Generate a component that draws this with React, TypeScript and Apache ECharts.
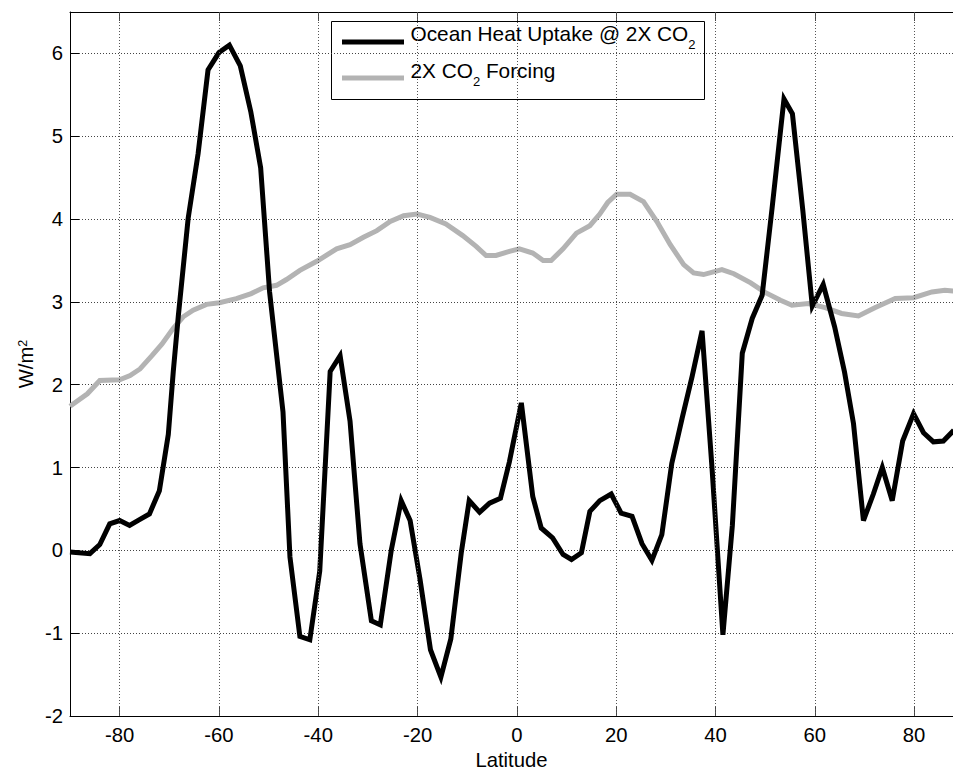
import React, { useEffect, useRef } from 'react';
import * as echarts from 'echarts';

// Ocean heat uptake @ 2X CO2 (W/m^2) vs latitude
const blackLat = [-90, -86, -84, -82, -80, -78, -76, -74, -72, -70.2, -69.2, -68.2, -66.2, -64.2, -62.2, -60, -57.9, -55.7, -53.6, -51.6, -49.8, -47.1, -45.7, -43.7, -41.7, -39.7, -37.6, -35.6, -33.6, -31.6, -29.3, -27.5, -25.3, -23.3, -21.5, -19.5, -17.4, -15.3, -13.3, -11.2, -9.6, -7.5, -5.5, -3.3, -1.5, 0.9, 3.2, 4.9, 7.2, 9.3, 11, 13, 14.7, 16.7, 19, 21, 23.2, 25.2, 27.2, 29.2, 31.2, 33.3, 35.3, 37.3, 39.3, 41.5, 43.4, 45.4, 47.4, 49.4, 51.4, 53.8, 55.5, 57.6, 59.5, 61.7, 64, 66, 67.8, 69.8, 71.8, 73.6, 75.6, 77.7, 79.9, 81.9, 83.9, 85.9, 88];
const blackVal = [-0.02, -0.04, 0.07, 0.32, 0.36, 0.3, 0.37, 0.44, 0.72, 1.4, 2.16, 2.82, 4.01, 4.79, 5.8, 6.01, 6.1, 5.85, 5.3, 4.62, 3.12, 1.67, -0.08, -1.04, -1.08, -0.25, 2.16, 2.35, 1.56, 0.08, -0.85, -0.9, 0.0, 0.6, 0.36, -0.35, -1.2, -1.53, -1.07, -0.03, 0.6, 0.46, 0.57, 0.63, 1.07, 1.78, 0.65, 0.27, 0.15, -0.05, -0.11, -0.03, 0.47, 0.6, 0.68, 0.45, 0.41, 0.08, -0.12, 0.19, 1.05, 1.6, 2.1, 2.65, 1.0, -1.02, 0.3, 2.38, 2.8, 3.08, 4.13, 5.45, 5.27, 4.1, 2.95, 3.21, 2.7, 2.15, 1.53, 0.36, 0.68, 1.0, 0.6, 1.32, 1.65, 1.42, 1.31, 1.32, 1.45];

// 2X CO2 forcing (W/m^2) vs latitude
const grayLat = [-90, -86.5, -84, -80, -77.9, -75.9, -73.5, -71.5, -69.2, -67.2, -65.2, -62.5, -59.9, -56.5, -53.5, -51.1, -48.4, -46.4, -43.7, -40.3, -36.3, -33.6, -30.9, -28.2, -25.5, -22.8, -20.1, -17.5, -14.3, -10.9, -8.2, -6.2, -4.2, -1.5, 0.5, 3.2, 5.3, 6.9, 9.3, 12, 14.7, 16.7, 18.3, 20.1, 22.8, 25.5, 28.2, 30.9, 33.6, 35.6, 37.6, 41.3, 43.7, 47.1, 49.8, 53.1, 55.4, 58.7, 62.1, 65.4, 68.8, 72.1, 76.2, 79.9, 83.6, 86.2, 88];
const grayVal = [1.74, 1.89, 2.05, 2.06, 2.11, 2.19, 2.35, 2.49, 2.68, 2.82, 2.9, 2.97, 2.99, 3.04, 3.1, 3.17, 3.2, 3.27, 3.38, 3.49, 3.64, 3.69, 3.78, 3.86, 3.97, 4.04, 4.06, 4.02, 3.94, 3.8, 3.67, 3.56, 3.56, 3.61, 3.64, 3.59, 3.5, 3.5, 3.64, 3.83, 3.92, 4.06, 4.2, 4.3, 4.3, 4.21, 3.97, 3.69, 3.45, 3.35, 3.33, 3.39, 3.34, 3.23, 3.12, 3.02, 2.96, 2.98, 2.93, 2.86, 2.83, 2.93, 3.04, 3.05, 3.12, 3.14, 3.13];

const xTicks = [-80, -60, -40, -20, 0, 20, 40, 60, 80];
const seriesNames = ['Ocean Heat Uptake @ 2X CO2', '2X CO2 Forcing'];
const seriesColors = ['#000000', '#b3b3b3'];
const xAxisTitle = 'Latitude';
const yAxisTitle = 'W/m2';

const X_MIN = -90;
const X_MAX = 87.84;
const Y_MIN = -2;
const Y_MAX = 6.5;

const FONT = '"Liberation Sans", Arial, Helvetica, sans-serif';

function richName(n: string): string {
  const parts = n.split('CO2');
  return parts
    .map((s, i) => (s ? `{t|${s}}` : '') + (i < parts.length - 1 ? '{t|CO}{sub|2}' : ''))
    .join('');
}

export default function App() {
  const ref = useRef<HTMLDivElement>(null);

  useEffect(() => {
    if (!ref.current) return;
    const chart = echarts.init(ref.current, undefined, { renderer: 'svg' });

    const legendRich = {
      t: { fontSize: 20.8, fontFamily: FONT, fill: '#000', verticalAlign: 'top' },
      sub: { fontSize: 13, fontFamily: FONT, fill: '#000', verticalAlign: 'top', padding: [15, 0, 0, 0] },
    };

    const option: any = {
      animation: false,
      backgroundColor: '#ffffff',
      grid: { left: 70, right: 0, top: 12, bottom: 56, containLabel: false, outerBoundsMode: 'none' },
      xAxis: [
        {
          type: 'value',
          position: 'bottom',
          min: X_MIN,
          max: X_MAX,
          axisLine: { show: true, onZero: false, lineStyle: { color: '#000', width: 1 } },
          axisTick: { show: true, inside: true, length: 9, customValues: xTicks, lineStyle: { color: '#444', width: 1 } },
          axisLabel: {
            show: true,
            customValues: xTicks,
            margin: 9,
            fontSize: 20.3,
            fontFamily: FONT,
            color: '#000',
          },
          splitLine: { show: false },
          name: xAxisTitle,
          nameLocation: 'middle',
          nameGap: 33,
          nameTextStyle: { fontSize: 20.3, fontFamily: FONT, color: '#000' },
        },
        {
          type: 'value',
          position: 'top',
          min: X_MIN,
          max: X_MAX,
          axisLine: { show: true, onZero: false, lineStyle: { color: '#000', width: 1 } },
          axisTick: { show: true, inside: true, length: 9, customValues: xTicks, lineStyle: { color: '#444', width: 1 } },
          axisLabel: { show: false },
          splitLine: { show: false },
        },
      ],
      yAxis: {
        type: 'value',
        min: Y_MIN,
        max: Y_MAX,
        interval: 1,
        axisLine: { show: true, onZero: false, lineStyle: { color: '#000', width: 1 } },
        axisTick: { show: true, inside: true, length: 9, lineStyle: { color: '#000', width: 1 } },
        axisLabel: {
          margin: 7,
          fontSize: 20.3,
          fontFamily: FONT,
          color: '#000',
          formatter: (v: number) => (Number.isInteger(v) ? String(v) : ''),
        },
        splitLine: { show: true, lineStyle: { color: '#444', width: 1, type: [1, 2] } },
      },
      series: [
        {
          type: 'line',
          name: 'grid',
          data: [],
          z: 1,
          silent: true,
          markLine: {
            silent: true,
            symbol: ['none', 'none'],
            label: { show: false },
            lineStyle: { color: '#555', width: 1, type: [1, 2] },
            emphasis: { disabled: true },
            data: xTicks.map((v) => ({ xAxis: v })),
          },
        },
        {
          type: 'line',
          name: seriesNames[1],
          data: grayLat.map((x, i) => [x, grayVal[i]]),
          showSymbol: false,
          symbol: 'none',
          z: 3,
          lineStyle: { color: seriesColors[1], width: 5, join: 'miter' },
          itemStyle: { color: seriesColors[1] },
        },
        {
          type: 'line',
          name: seriesNames[0],
          data: blackLat.map((x, i) => [x, blackVal[i]]),
          showSymbol: false,
          symbol: 'none',
          z: 4,
          lineStyle: { color: seriesColors[0], width: 5, join: 'miter' },
          itemStyle: { color: seriesColors[0] },
        },
      ],
      graphic: [
        {
          type: 'group',
          z: 100,
          children: [
            {
              type: 'rect',
              shape: { x: 331.5, y: 21.5, width: 373, height: 78 },
              style: { fill: '#ffffff', stroke: '#000000', lineWidth: 1 },
            },
            {
              type: 'line',
              shape: { x1: 342, y1: 42, x2: 404, y2: 42 },
              style: { stroke: seriesColors[0], lineWidth: 5 },
            },
            {
              type: 'line',
              shape: { x1: 342, y1: 78, x2: 404, y2: 78 },
              style: { stroke: seriesColors[1], lineWidth: 5 },
            },
            {
              type: 'text',
              x: 410.5,
              y: 22.5,
              style: { text: richName(seriesNames[0]), align: 'left', verticalAlign: 'top', rich: legendRich },
            },
            {
              type: 'text',
              x: 410.5,
              y: 59.5,
              style: { text: richName(seriesNames[1]), align: 'left', verticalAlign: 'top', rich: legendRich },
            },
          ],
        },
        {
          type: 'text',
          x: 26,
          y: 364,
          rotation: Math.PI / 2,
          style: {
            text: `{t|${yAxisTitle.slice(0, -1)}}{sup|${yAxisTitle.slice(-1)}}`,
            align: 'center',
            verticalAlign: 'middle',
            rich: {
              t: { fontSize: 20.3, fontFamily: FONT, fill: '#000', verticalAlign: 'top' },
              sup: { fontSize: 12.5, fontFamily: FONT, fill: '#000', verticalAlign: 'top' },
            },
          },
        },
      ],
    };

    chart.setOption(option);
    return () => chart.dispose();
  }, []);

  return (
    <div
      ref={ref}
      style={{ position: 'fixed', left: 0, top: 0, width: 953, height: 772, background: '#fff' }}
    />
  );
}
